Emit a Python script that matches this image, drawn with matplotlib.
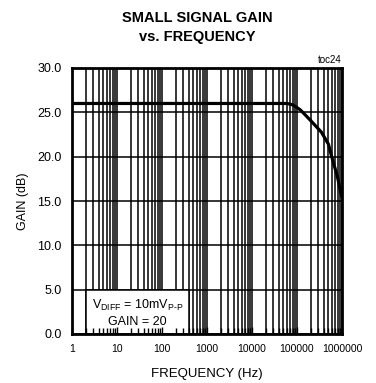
import numpy as np
import matplotlib
matplotlib.use("Agg")
import matplotlib.pyplot as plt
from matplotlib.patches import Rectangle

freq_hz = [1, 60000, 80000, 117000, 150000, 212000, 350000, 500000, 590000, 790000, 930000, 1000000]
gain_db = [26.0, 26.0, 25.85, 25.3, 24.75, 23.95, 22.75, 21.4, 20.0, 17.75, 16.05, 15.4]
x_ticks = [1, 10, 100, 1000, 10000, 100000, 1000000]
x_ticklabels = ["1", "10", "100", "1000", "10000", "100000", "1000000"]
y_ticks = [0, 5, 10, 15, 20, 25, 30]
y_ticklabels = ["0.0", "5.0", "10.0", "15.0", "20.0", "25.0", "30.0"]

plt.rcParams['font.family'] = ['Liberation Sans', 'DejaVu Sans']
plt.rcParams['mathtext.fontset'] = 'custom'
plt.rcParams['mathtext.rm'] = 'Liberation Sans'

fig = plt.figure(figsize=(3.76, 3.83), dpi=100)
ax = fig.add_axes([72/376, 1-334/383, 270/376, 266/383])
ax.set_xscale('log')
ax.set_xlim(1, 1e6)
ax.set_ylim(0, 30)

# grid lines
grid_x = [m * 10**d for d in range(6) for m in range(1, 10)] + [1e6]
for gx in grid_x:
    ax.axvline(gx, color='black', lw=1.1, zorder=1)
for gy in y_ticks:
    ax.axhline(gy, color='black', lw=1.1, zorder=1)

# annotation box
ax.add_patch(Rectangle((2, 0), 398, 5, facecolor='white', edgecolor='black', lw=1.1, zorder=2))
xc = np.sqrt(2*400)
ax.text(xc, 3.2, r"V$_{\mathrm{DIFF}}$ = 10mV$_{\mathrm{P\text{-}P}}$", ha='center', va='center',
        fontsize=9, zorder=4)
ax.text(xc, 1.3, "GAIN = 20", ha='center', va='center', fontsize=9, zorder=4)

ax.plot(freq_hz, gain_db, color='black', lw=2.3, zorder=3, solid_capstyle='butt',
        solid_joinstyle='round')

ax.set_axisbelow(False)
for s in ax.spines.values():
    s.set_linewidth(2.0)
    s.set_zorder(5)
ax.set_xticks(x_ticks)
ax.set_xticklabels(x_ticklabels)
ax.set_yticks(y_ticks)
ax.set_yticklabels(y_ticklabels)
ax.tick_params(axis='x', which='both', direction='in', labelsize=7.5, pad=7, width=1.0)
ax.tick_params(axis='x', which='major', length=5)
ax.tick_params(axis='x', which='minor', length=4)
ax.tick_params(axis='y', which='both', direction='in', length=0, labelsize=9, pad=7.5)

ax.set_xlabel("FREQUENCY (Hz)", fontsize=9.5, labelpad=10)
ax.set_ylabel("GAIN (dB)", fontsize=9, labelpad=6)

fig.text(197.5/376, 1-18/383, "SMALL SIGNAL GAIN", ha='center', va='center', fontsize=10.5, fontweight='bold')
fig.text(197.5/376, 1-37.5/383, "vs. FREQUENCY", ha='center', va='center', fontsize=10.5, fontweight='bold')
ax.text(1.0, 1.01, "toc24", transform=ax.transAxes, ha='right', va='bottom', fontsize=7)

fig.savefig("out.png", dpi=100)
